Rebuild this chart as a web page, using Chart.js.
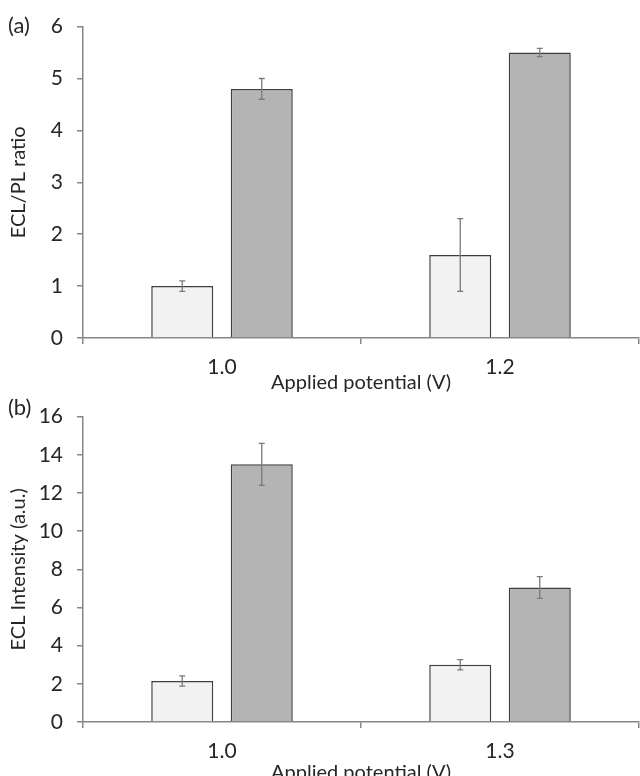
<!DOCTYPE html>
<html>
<head>
<meta charset="utf-8">
<script src="https://cdn.jsdelivr.net/npm/chart.js@4.4.1/dist/chart.umd.min.js"></script>
<style>
  html, body { margin: 0; padding: 0; background: #fff; overflow: hidden; }
  body { width: 640px; height: 776px; position: relative; }
  .panel { position: absolute; left: 0; width: 640px; height: 395px; }
  #wrapA { top: 0; }
  #wrapB { top: 390px; }
</style>
</head>
<body>
<div class="panel" id="wrapA"><canvas id="chartA" width="640" height="395"></canvas></div>
<div class="panel" id="wrapB"><canvas id="chartB" width="640" height="395"></canvas></div>
<script>
// (a) ECL/PL ratio
const potentialsA = ['1.0', '1.2'];
const ratioLight = [1.0, 1.6];
const ratioLightErr = [0.1, 0.7];
const ratioDark = [4.8, 5.5];
const ratioDarkErr = [0.2, 0.08];

// (b) ECL intensity
const potentialsB = ['1.0', '1.3'];
const intensityLight = [2.15, 3.0];
const intensityLightErr = [0.27, 0.27];
const intensityDark = [13.5, 7.05];
const intensityDarkErr = [1.1, 0.57];

const FONT = 'Lato';
const AXIS = '#868686';
const TEXT = '#262626';

// draws +/- error whiskers on top of every bar
const errorBars = {
  id: 'errorBars',
  afterDatasetsDraw(chart) {
    const {ctx} = chart;
    const y = chart.scales.y;
    ctx.save();
    ctx.strokeStyle = '#7a7a7a';
    ctx.lineWidth = 1.3;
    chart.data.datasets.forEach((ds, i) => {
      chart.getDatasetMeta(i).data.forEach((bar, j) => {
        const top = y.getPixelForValue(ds.data[j] + ds.errors[j]);
        const bot = y.getPixelForValue(ds.data[j] - ds.errors[j]);
        ctx.beginPath();
        ctx.moveTo(bar.x, top); ctx.lineTo(bar.x, bot);
        ctx.moveTo(bar.x - 3, top); ctx.lineTo(bar.x + 3, top);
        ctx.moveTo(bar.x - 3, bot); ctx.lineTo(bar.x + 3, bot);
        ctx.stroke();
      });
    });
    ctx.restore();
  }
};

// "(a)" / "(b)" panel tag in the top-left corner
const panelLabel = {
  id: 'panelLabel',
  afterDraw(chart, args, opts) {
    const {ctx} = chart;
    ctx.save();
    ctx.font = `22px ${FONT}`;
    ctx.fillStyle = TEXT;
    ctx.textBaseline = 'middle';
    ctx.fillText(opts.text, 8, opts.y);
    ctx.restore();
  }
};

function drawChart(id, labels, light, lightErr, dark, darkErr, yMax, yStep, yTitle, tag, tagY, areaTop, areaBottom) {
  const canvas = document.getElementById(id);
  return new Chart(canvas.getContext('2d'), {
    type: 'bar',
    data: {
      labels,
      datasets: [
        {
          data: light,
          errors: lightErr,
          backgroundColor: '#f2f2f2',
          borderColor: '#3f3f3f',
          borderWidth: 1.5,
        },
        {
          data: dark,
          errors: darkErr,
          backgroundColor: '#b4b4b4',
          borderColor: '#3f3f3f',
          borderWidth: 1.5,
        },
      ]
    },
    options: {
      responsive: false,
      animation: false,
      categoryPercentage: 0.572,
      barPercentage: 0.78,
      layout: {
        padding: {top: areaTop, right: 1, bottom: 0, left: 0}
      },
      plugins: {
        legend: {display: false},
        tooltip: {enabled: false},
        panelLabel: {text: tag, y: tagY},
      },
      scales: {
        x: {
          offset: true,
          afterFit: scale => { scale.height = canvas.height - areaBottom; },
          grid: {
            offset: true,
            drawOnChartArea: false,
            tickLength: 6,
            color: AXIS,
            lineWidth: 1.5,
          },
          border: {color: AXIS, width: 1.5},
          ticks: {color: TEXT, font: {family: FONT, size: 21}, padding: 11},
          title: {
            display: true,
            text: 'Applied potential (V)',
            color: TEXT,
            font: {family: FONT, size: 20},
            padding: {top: 0, bottom: 0},
          },
        },
        y: {
          min: 0,
          max: yMax,
          afterFit: scale => { scale.width = 83; },
          grid: {
            drawOnChartArea: false,
            tickLength: 6,
            color: AXIS,
            lineWidth: 1.5,
          },
          border: {color: AXIS, width: 1.5},
          ticks: {stepSize: yStep, color: TEXT, font: {family: FONT, size: 21}, padding: 14},
          title: {
            display: true,
            text: yTitle,
            color: TEXT,
            font: {family: FONT, size: 20},
            padding: {top: 7, bottom: 0},
          },
        },
      },
    },
    plugins: [errorBars, panelLabel],
  });
}

drawChart('chartA', potentialsA, ratioLight, ratioLightErr, ratioDark, ratioDarkErr,
  6, 1, 'ECL/PL ratio', '(a)', 26, 23, 338);
drawChart('chartB', potentialsB, intensityLight, intensityLightErr, intensityDark, intensityDarkErr,
  16, 2, 'ECL Intensity (a.u.)', '(b)', 18, 16, 332);
</script>
</body>
</html>
